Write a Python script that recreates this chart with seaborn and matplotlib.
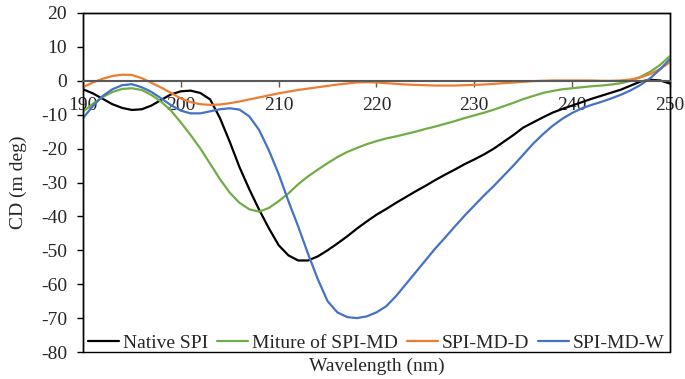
import pandas as pd
import numpy as np
import matplotlib
matplotlib.use('Agg')
import matplotlib.pyplot as plt
import seaborn as sns

sns.set_style('white')
plt.rcParams['font.family'] = ['Liberation Serif', 'DejaVu Serif']
plt.rcParams['axes.unicode_minus'] = False

wavelength = list(range(190, 251))

native_spi = [-2.5, -3.7, -5.3, -6.9, -8.0, -8.6, -8.4, -7.3, -5.6, -4.0,
              -3.1, -2.9, -3.6, -5.5, -11.0, -18.0, -25.5, -32.0, -38.0, -43.5,
              -48.5, -51.5, -53.0, -53.0, -51.8, -50.0, -48.0, -45.9, -43.6, -41.5,
              -39.5, -37.8, -36.0, -34.3, -32.6, -31.0, -29.3, -27.7, -26.2, -24.6,
              -23.2, -21.7, -20.0, -18.0, -16.0, -13.8, -12.3, -10.8, -9.4, -8.3,
              -7.3, -6.3, -5.3, -4.4, -3.5, -2.6, -1.4, -0.2, 0.3, 0.1,
              -0.8]

mixture = [-9.1, -6.8, -4.8, -3.3, -2.4, -2.2, -2.7, -4.2, -6.2, -8.8,
           -12.3, -16.0, -20.0, -24.5, -29.0, -33.0, -36.0, -37.9, -38.6, -37.5,
           -35.5, -33.2, -30.5, -28.2, -26.2, -24.3, -22.5, -21.0, -19.8, -18.7,
           -17.8, -17.0, -16.4, -15.7, -15.0, -14.2, -13.5, -12.7, -11.9, -11.0,
           -10.2, -9.4, -8.5, -7.5, -6.5, -5.4, -4.5, -3.6, -3.0, -2.5,
           -2.2, -1.9, -1.6, -1.4, -1.1, -0.7, 0.0, 1.2, 2.7, 4.7,
           7.3]

spi_md_d = [-1.9, -0.5, 0.6, 1.4, 1.8, 1.7, 0.8, -0.6, -2.0, -3.6,
            -5.2, -6.3, -6.9, -7.1, -7.0, -6.6, -6.1, -5.5, -4.9, -4.3,
            -3.7, -3.2, -2.7, -2.3, -1.9, -1.5, -1.1, -0.8, -0.5, -0.4,
            -0.5, -0.7, -0.9, -1.1, -1.2, -1.3, -1.4, -1.4, -1.4, -1.3,
            -1.2, -1.1, -0.9, -0.7, -0.5, -0.3, -0.1, 0.0, 0.1, 0.1,
            0.1, 0.1, 0.1, 0.0, 0.0, 0.1, 0.4, 1.0, 2.0, 3.5,
            5.5]

spi_md_w = [-11.0, -7.5, -4.5, -2.5, -1.3, -1.0, -1.9, -3.3, -5.2, -7.2,
            -8.8, -9.6, -9.6, -9.0, -8.4, -8.1, -8.5, -10.5, -14.5, -20.5,
            -27.5, -35.5, -43.0, -51.0, -58.5, -65.0, -68.3, -69.7, -70.0, -69.5,
            -68.3, -66.5, -63.5, -60.0, -56.5, -53.0, -49.5, -46.3, -43.0, -39.8,
            -36.8, -33.8, -31.0, -28.0, -25.0, -21.8, -18.6, -15.8, -13.3, -11.2,
            -9.5, -8.1, -7.1, -6.2, -5.2, -4.1, -2.8, -1.2, 0.8, 3.4,
            6.4]

samples = ['Native SPI', 'Miture of SPI-MD', 'SPI-MD-D', 'SPI-MD-W']
colors = ['#000000', '#70AD47', '#ED7D31', '#4472C4']

df = pd.DataFrame({'Wavelength': wavelength,
                   'Native SPI': native_spi,
                   'Miture of SPI-MD': mixture,
                   'SPI-MD-D': spi_md_d,
                   'SPI-MD-W': spi_md_w})
df = df.melt(id_vars='Wavelength', var_name='Sample', value_name='CD')

fig = plt.figure(figsize=(6.85, 3.79), dpi=100)
ax = fig.add_axes([0.1212, 0.0712, 0.8568, 0.8945])

sns.lineplot(data=df, x='Wavelength', y='CD', hue='Sample', hue_order=samples,
             palette=colors, linewidth=1.6, ax=ax)

ax.set_xlim(190, 250)
ax.set_ylim(-80, 20)
ax.set_xticks(range(190, 251, 10))
ax.set_yticks(range(-80, 21, 10))

# x axis sits on the zero line, box drawn around the plot area
ax.spines['bottom'].set_position(('data', 0))
ax.spines['bottom'].set_color('#595959')
ax.spines['bottom'].set_linewidth(1.5)
for s in ['left', 'top', 'right']:
    ax.spines[s].set_color('black')
    ax.spines[s].set_linewidth(1.0)
ax.add_patch(plt.Rectangle((0, 0), 1, 1, transform=ax.transAxes, fill=False,
                           edgecolor='black', linewidth=1.0, clip_on=False))

ax.tick_params(axis='x', direction='out', length=4, width=1, color='#595959',
               labelsize=14, pad=8, bottom=True)
ax.tick_params(axis='y', direction='out', length=4.5, width=1, color='black',
               labelsize=14, pad=7, left=True)

ax.set_xlabel('Wavelength (nm)', fontsize=14)
ax.set_ylabel('CD (m deg)', fontsize=14, labelpad=10)
ax.xaxis.set_label_coords(0.5, -0.018)

handles, labels = ax.get_legend_handles_labels()
ax.legend(handles, labels, loc='lower center', bbox_to_anchor=(0.5, -0.006),
          ncol=4, frameon=False, fontsize=14, handlelength=1.6,
          handletextpad=0.2, columnspacing=0.45, borderaxespad=0, borderpad=0.1)

fig.savefig('out.png', dpi=100)
